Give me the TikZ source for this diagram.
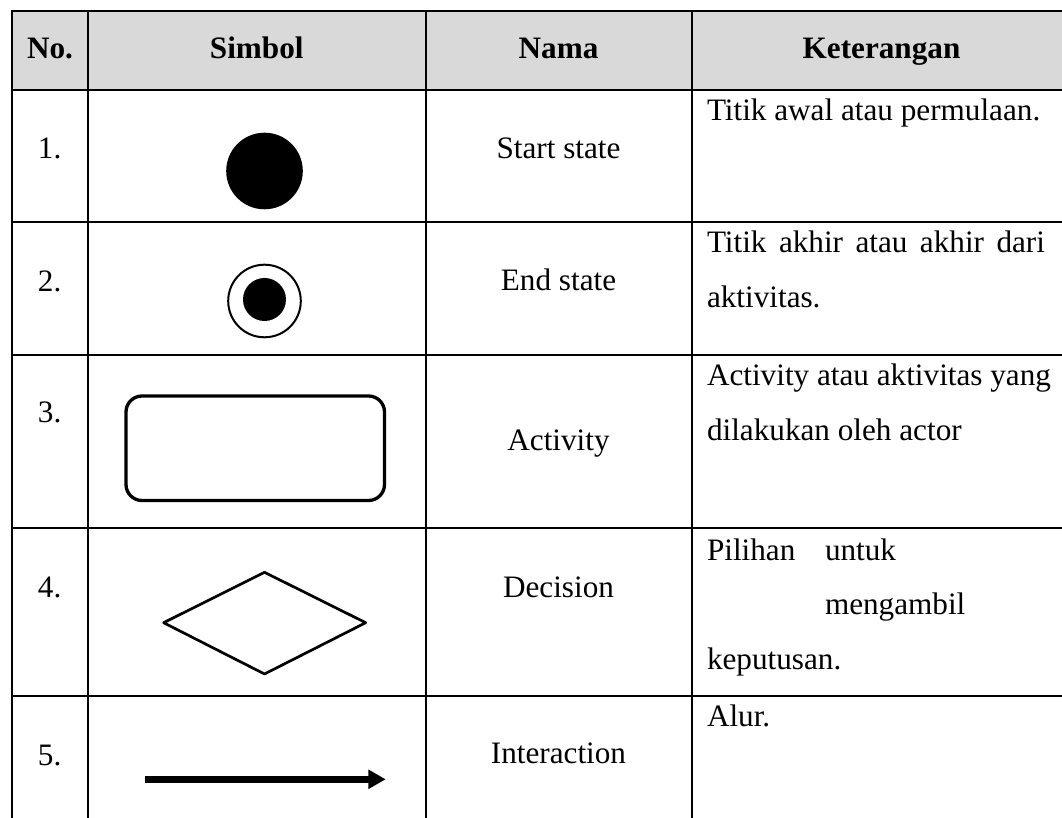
\documentclass[tikz,border=0pt]{standalone}
\usepackage{fontspec}
\setmainfont{Liberation Serif}
\usetikzlibrary{math, arrows.meta}
\definecolor{headgray}{HTML}{D9D9D9}

\begin{document}
\begin{tikzpicture}[x=0.5pt, y=-0.5pt, line width=1pt,
    every node/.style={inner sep=0pt, font=\fontsize{15.6}{18}\selectfont},
    head/.style={anchor=base, font=\fontsize{15.6}{18}\selectfont\bfseries},
    nomor/.style={anchor=base west},
    nama/.style={anchor=base},
    ket/.style={anchor=base west}]
    \tikzmath{
        \xa=12; \xb=88; \xc=425.5; \xd=691.5; \xe=1062;
        \ya=11.5; \yb=90.5; \yc=222.5; \yd=355.5; \ye=528.5; \yf=696.5; \yg=830;
        \xno=(\xa+\xb)/2;
        \xsym=264.5;
        \xnama=(\xc+\xd)/2;
        \xnum=37;
        \xket=706;
    }
    \useasboundingbox (0, 0) rectangle (1062, 818);

    % header background
    \fill [headgray] (\xa, \ya) rectangle (\xe, \yb);

    % grid
    \foreach \y in {\ya, \yb, \yc, \yd, \ye, \yf}
        \draw [line cap=rect] (\xa, \y) -- (\xe, \y);
    \foreach \x in {\xa, \xb, \xc, \xd}
        \draw [line cap=rect] (\x, \ya) -- (\x, \yg);

    % header
    \node [head] (hno) at (\xno, 58.5) {No.};
    \node [head] (hsimbol) at ({(\xb+\xc)/2}, 58.5) {Simbol};
    \node [head] (hnama) at (\xnama, 58.5) {Nama};
    \node [head] (hket) at (881.5, 58.5) {Keterangan};

    % 1. start state
    \node [nomor] (no1) at (\xnum, 159) {1.};
    \fill (\xsym, 171) circle (38.3);
    \node [nama] (nama1) at (\xnama, 159) {Start state};
    \node [ket] (ket1) at (\xket, 121) {Titik awal atau permulaan.};

    % 2. end state
    \node [nomor] (no2) at (\xnum, 291.5) {2.};
    \draw (\xsym, 301) circle (36.3);
    \fill (\xsym, 299.5) circle (21.5);
    \node [nama] (nama2) at (\xnama, 290.5) {End state};
    \node [ket] (ket2a) at (\xket, 252.5) {\makebox[169pt][s]{Titik akhir atau akhir dari}};
    \node [ket] (ket2b) at (\xket, 307.5) {aktivitas.};

    % 3. activity
    \node [nomor] (no3) at (\xnum, 423) {3.};
    \draw [line width=1.65pt, rounded corners=8pt] (126, 396) rectangle (384.5, 500.5);
    \node [nama] (nama3) at (\xnama, 451) {Activity};
    \node [ket] (ket3a) at (\xket, 385.5) {Activity atau aktivitas yang};
    \node [ket] (ket3b) at (\xket, 440.5) {dilakukan oleh actor};

    % 4. decision
    \node [nomor] (no4) at (\xnum, 597) {4.};
    \draw [line width=1.35pt, line join=round] (\xsym, 572.3) -- (365.7, 622.7)
        -- (\xsym, 674) -- (163.6, 622.7) -- cycle;
    \node [nama] (nama4) at (\xnama, 597.3) {Decision};
    \node [ket] (ket4a) at (\xket, 561) {Pilihan};
    \node [ket] (ket4b) at (824, 561) {untuk};
    \node [ket] (ket4c) at (824, 615) {mengambil};
    \node [ket] (ket4d) at (\xket, 669) {keputusan.};

    % 5. interaction
    \node [nomor] (no5) at (\xnum, 765) {5.};
    \coordinate (alurawal) at (145, 779.3);
    \coordinate (alurakhir) at (385.7, 779.3);
    \draw [line width=3.3pt, -{Triangle[length=8.7pt, width=9.2pt]}] (alurawal) -- (alurakhir);
    \node [nama] (nama5) at (\xnama, 763.5) {Interaction};
    \node [ket] (ket5) at (\xket, 726.7) {Alur.};
\end{tikzpicture}
\end{document}
